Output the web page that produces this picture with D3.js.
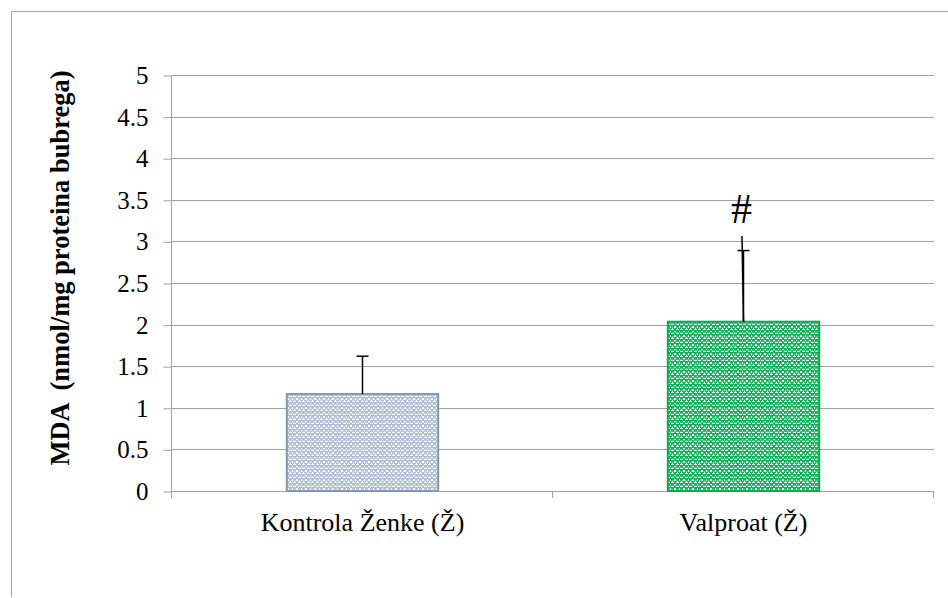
<!DOCTYPE html>
<html><head><meta charset="utf-8">
<script src="https://cdn.jsdelivr.net/npm/d3@7"></script>
<style>body{margin:0;background:#fff} svg text{font-family:"Liberation Serif","Times New Roman",Tinos,serif}</style>
</head><body>
<script>
const categories = ["Kontrola Ženke (Ž)", "Valproat (Ž)"];
const means = [1.165, 2.035];
const errTop = [1.62, 2.89];
const extraLineTop = [null, 3.065];
const marks = ["", "#"];
const yTicks = [0, 0.5, 1, 1.5, 2, 2.5, 3, 3.5, 4, 4.5, 5];
const yTitle = "MDA  (nmol/mg proteina bubrega)";

const SERIF = "Liberation Serif";
const W = 948, H = 598;
const svg = d3.select("body").append("svg").attr("width", W).attr("height", H).attr("font-family", SERIF);
const defs = svg.append("defs");
function pat(id, bg, fg) {
  const p = defs.append("pattern").attr("id", id).attr("patternUnits", "userSpaceOnUse")
    .attr("width", 9).attr("height", 9);
  p.append("rect").attr("width", 9).attr("height", 9).attr("fill", bg);
  p.append("path").attr("d", "M1,0h3v1h-3zM5,0h3v1h-3zM0,2h1v2h-1zM4,2h1v2h-1zM8,2h1v2h-1zM2,4h1v1h-1zM6,4h1v1h-1zM1,5h3v1h-3zM5,5h3v1h-3zM0,7h1v1h-1zM4,7h1v1h-1zM8,7h1v1h-1z")
    .attr("fill", fg).attr("opacity", 0.9);
  p.append("path").attr("d", "M0,3h9v0.5h-9zM0,8h9v0.5h-9z").attr("fill", fg).attr("opacity", 0.4);
}
pat("pA", "#b1bfd6", "#ffffff");
pat("pB", "#14b25a", "#ffffff");

svg.append("path").attr("d", "M11.5,597V11.5H948").attr("fill", "none").attr("stroke", "#a6a6a6").attr("stroke-width", 1);

const x0 = 172, x1 = 934, y0 = 491, y1 = 75;
const x = d3.scaleBand().domain(categories).range([x0, x1]).paddingInner(0).paddingOuter(0);
const y = d3.scaleLinear().domain([0, 5]).range([y0, y1]);

svg.append("g").selectAll("line").data(yTicks.filter(v => v > 0)).join("line")
  .attr("x1", x0).attr("x2", x1).attr("y1", d => Math.round(y(d)) + 0.5).attr("y2", d => Math.round(y(d)) + 0.5)
  .attr("stroke", "#a0a0a0").attr("stroke-width", 1);

const ya = svg.append("g").attr("transform", `translate(${x0 - 0.5},0.5)`)
  .call(d3.axisLeft(y).tickValues(yTicks).tickSize(8).tickPadding(15).tickFormat(d => String(d)));
ya.attr("font-family", SERIF).attr("font-size", 25);
ya.select(".domain").attr("stroke", "#a0a0a0").attr("d", `M0,${y1}V${y0 + 6}`);
ya.selectAll(".tick line").attr("stroke", "#a0a0a0");
ya.selectAll(".tick text").attr("font-family", SERIF).style("font-family", SERIF).style("font-size", "25px").attr("fill", "#000");

const xa = svg.append("g").attr("transform", `translate(0,${y0 + 0.5})`)
  .call(d3.axisBottom(x).tickSize(0).tickPadding(21));
xa.attr("font-family", SERIF).attr("font-size", 26);
xa.select(".domain").attr("stroke", "#a0a0a0").attr("d", `M${x0},0H${x1}`);
xa.selectAll(".tick text").attr("font-family", SERIF).style("font-family", SERIF).style("font-size", "26px").attr("fill", "#000");
const bounds = [x0, x0 + x.bandwidth(), x1];
svg.append("g").selectAll("line").data(bounds).join("line")
  .attr("x1", d => Math.round(d) - 0.5).attr("x2", d => Math.round(d) - 0.5)
  .attr("y1", y0).attr("y2", y0 + 7).attr("stroke", "#a0a0a0");

const bw = x.bandwidth() * 0.4;
const fills = ["url(#pA)", "url(#pB)"];
const strokes = ["#8496b0", "#00b050"];
svg.append("g").selectAll("rect").data(categories).join("rect")
  .attr("x", d => x(d) + (x.bandwidth() - bw) / 2 + 0.5)
  .attr("y", (d, i) => y(means[i]))
  .attr("width", bw - 1)
  .attr("height", (d, i) => y0 - y(means[i]))
  .attr("fill", (d, i) => fills[i])
  .attr("stroke", (d, i) => strokes[i]).attr("stroke-width", 2);

const eg = svg.append("g").attr("stroke", "#000").attr("stroke-width", 1.5);
categories.forEach((c, i) => {
  const cx = x(c) + x.bandwidth() / 2;
  eg.append("line").attr("x1", cx).attr("x2", cx).attr("y1", y(means[i])).attr("y2", y(errTop[i]));
  eg.append("line").attr("x1", cx - 6).attr("x2", cx + 6).attr("y1", y(errTop[i])).attr("y2", y(errTop[i]));
  if (extraLineTop[i] != null) {
    eg.append("line").attr("x1", cx).attr("x2", cx - 1.5).attr("y1", y(means[i])).attr("y2", y(extraLineTop[i]));
  }
  if (marks[i]) {
    svg.append("text").attr("x", cx - 2).attr("y", y(extraLineTop[i] || errTop[i]) - 13)
      .attr("text-anchor", "middle").attr("font-family", SERIF).style("font-family", SERIF).style("font-size", "42px").text(marks[i]);
  }
});

svg.append("text").attr("transform", `translate(69,${(y0 + y1) / 2 - 15}) rotate(-90)`)
  .attr("text-anchor", "middle").attr("font-family", SERIF).style("font-family", SERIF)
  .style("font-weight", "bold").style("font-size", "26.5px").style("white-space", "pre").text(yTitle);
</script>
</body></html>
